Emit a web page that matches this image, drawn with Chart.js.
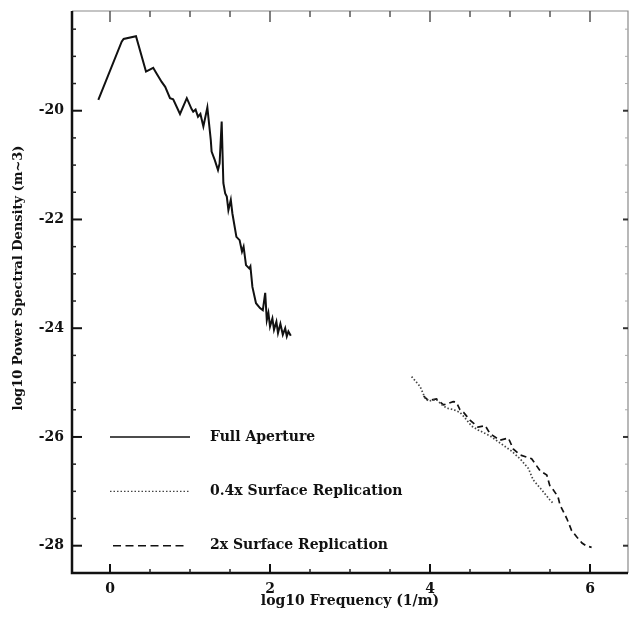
<!DOCTYPE html>
<html>
<head>
<meta charset="utf-8">
<script src="https://cdn.jsdelivr.net/npm/chart.js@4/dist/chart.umd.min.js"></script>
<style>
  html, body { margin: 0; padding: 0; background: #fff; }
  #wrap { width: 629px; height: 619px; position: relative; }
</style>
</head>
<body>
<div id="wrap"><canvas id="psd"></canvas></div>
<script>
// Full aperture measurement
const fullX = [-0.146, 0.146, 0.17, 0.325, 0.45, 0.54, 0.58, 0.646, 0.69, 0.75, 0.79, 0.875, 0.96, 1.02, 1.04, 1.07, 1.10, 1.13, 1.167, 1.217, 1.26, 1.27, 1.31, 1.35, 1.37, 1.396, 1.417, 1.44, 1.46, 1.48, 1.51, 1.53, 1.58, 1.62, 1.65, 1.67, 1.70, 1.74, 1.755, 1.78, 1.825, 1.875, 1.91, 1.94, 1.96, 1.98, 2.0, 2.03, 2.05, 2.08, 2.10, 2.13, 2.16, 2.19, 2.21, 2.23, 2.26];
const fullY = [-19.80, -18.73, -18.68, -18.63, -19.28, -19.21, -19.31, -19.47, -19.56, -19.77, -19.79, -20.06, -19.77, -19.97, -20.02, -19.98, -20.11, -20.06, -20.29, -19.94, -20.54, -20.75, -20.91, -21.09, -20.97, -20.20, -21.33, -21.52, -21.58, -21.83, -21.64, -21.89, -22.32, -22.38, -22.59, -22.50, -22.84, -22.90, -22.86, -23.24, -23.54, -23.63, -23.67, -23.35, -23.85, -23.72, -23.97, -23.82, -24.03, -23.88, -24.09, -23.92, -24.12, -24.00, -24.15, -24.06, -24.14];

// 0.4x surface replication
const rep04X = [3.77, 3.875, 3.94, 3.98, 4.08, 4.15, 4.21, 4.30, 4.375, 4.42, 4.52, 4.60, 4.75, 4.875, 5.02, 5.125, 5.23, 5.29, 5.40, 5.50, 5.54];
const rep04Y = [-24.89, -25.07, -25.29, -25.34, -25.31, -25.41, -25.47, -25.50, -25.55, -25.62, -25.80, -25.87, -25.98, -26.11, -26.26, -26.40, -26.58, -26.79, -26.98, -27.16, -27.22];

// 2x surface replication
const rep2X = [3.92, 3.98, 4.08, 4.17, 4.29, 4.33, 4.375, 4.42, 4.50, 4.60, 4.69, 4.75, 4.875, 4.98, 5.04, 5.125, 5.27, 5.375, 5.46, 5.50, 5.54, 5.60, 5.625, 5.71, 5.77, 5.83, 5.90, 5.95, 6.02];
const rep2Y = [-25.25, -25.33, -25.30, -25.41, -25.35, -25.36, -25.50, -25.55, -25.69, -25.82, -25.79, -25.94, -26.06, -26.02, -26.22, -26.33, -26.40, -26.62, -26.70, -26.91, -26.97, -27.10, -27.25, -27.50, -27.72, -27.83, -27.95, -28.00, -28.03];

const seriesNames = ['Full Aperture', '0.4x Surface Replication', '2x Surface Replication'];

const xMajorTicks = [0, 2, 4, 6];
const xMinorTicks = [0.5, 1, 1.5, 2.5, 3, 3.5, 4.5, 5, 5.5];
const yMajorTicks = [-28, -26, -24, -22, -20];
const yMinorTicks = [-27.5, -27, -26.5, -25.5, -25, -24.5, -23.5, -23, -22.5, -21.5, -21, -20.5, -19.5, -19, -18.5];

const xTitle = 'log10 Frequency (1/m)';
const yTitle = 'log10 Power Spectral Density (m~3)';

const toPts = (xs, ys) => xs.map((v, i) => ({ x: v, y: ys[i] }));

const serif = '"DejaVu Serif", "Liberation Serif", serif';
const dashes = [[], [1.5, 2], [6, 4]];
const inkColors = ['#111', '#444', '#111'];

// frame box with inward tick marks, like the original plot
const frameTicks = {
  id: 'frameTicks',
  afterDatasetsDraw(chart) {
    const { ctx, chartArea: a, scales: { x, y } } = chart;
    ctx.save();
    ctx.lineCap = 'butt';

    ctx.strokeStyle = '#8a8a8a';
    ctx.lineWidth = 1.2;
    ctx.beginPath();
    ctx.moveTo(a.left, a.top); ctx.lineTo(a.right, a.top); ctx.lineTo(a.right, a.bottom);
    ctx.stroke();

    ctx.strokeStyle = '#111';
    ctx.lineWidth = 2.5;
    ctx.beginPath();
    ctx.moveTo(a.left, a.top); ctx.lineTo(a.left, a.bottom); ctx.lineTo(a.right, a.bottom);
    ctx.stroke();

    const tick = (x0, y0, x1, y1, w, c) => {
      ctx.strokeStyle = c; ctx.lineWidth = w;
      ctx.beginPath(); ctx.moveTo(x0, y0); ctx.lineTo(x1, y1); ctx.stroke();
    };
    xMajorTicks.forEach(v => {
      const px = x.getPixelForValue(v);
      tick(px, a.bottom, px, a.bottom - 9, 2, '#111');
      tick(px, a.top, px, a.top + 11, 1.5, '#555');
    });
    xMinorTicks.forEach(v => {
      const px = x.getPixelForValue(v);
      tick(px, a.bottom, px, a.bottom - 4, 1.5, '#222');
      tick(px, a.top, px, a.top + 6, 1.5, '#555');
    });
    yMajorTicks.forEach(v => {
      const py = y.getPixelForValue(v);
      tick(a.left, py, a.left + 10, py, 2, '#111');
      tick(a.right, py, a.right - 5, py, 2, '#333');
    });
    yMinorTicks.forEach(v => {
      const py = y.getPixelForValue(v);
      tick(a.left, py, a.left + 4, py, 1.5, '#222');
      tick(a.right, py, a.right - 3, py, 1, '#aaa');
    });

    // rotated y axis title, sitting a little above centre as in the original
    ctx.save();
    ctx.translate(19, 278);
    ctx.rotate(-Math.PI / 2);
    ctx.font = 'bold 13px ' + serif;
    ctx.fillStyle = '#111';
    ctx.textAlign = 'center';
    ctx.textBaseline = 'middle';
    ctx.fillText(yTitle, 0, 0);
    ctx.restore();

    ctx.restore();
  }
};

// legend drawn inside the plot area, lower left
const innerLegend = {
  id: 'innerLegend',
  afterDraw(chart) {
    const { ctx, scales: { x, y } } = chart;
    const rowVals = [-26, -27, -28];
    ctx.save();
    ctx.font = 'bold 14px ' + serif;
    ctx.textBaseline = 'middle';
    ctx.fillStyle = '#111';
    seriesNames.forEach((name, i) => {
      const py = y.getPixelForValue(rowVals[i]);
      const x0 = x.getPixelForValue(0) + (i === 2 ? 3 : 0);
      const x1 = x.getPixelForValue(1) - (i === 2 ? 3 : 0);
      ctx.strokeStyle = inkColors[i];
      ctx.lineWidth = i === 1 ? 1.3 : 1.4;
      ctx.setLineDash(i === 2 ? [8, 4.5] : dashes[i]);
      ctx.beginPath(); ctx.moveTo(x0, py); ctx.lineTo(x1, py); ctx.stroke();
      ctx.setLineDash([]);
      ctx.fillText(name, x.getPixelForValue(1.25), py);
    });
    ctx.restore();
  }
};

const dataSets = [toPts(fullX, fullY), toPts(rep04X, rep04Y), toPts(rep2X, rep2Y)];

new Chart(document.getElementById('psd'), {
  type: 'scatter',
  data: {
    datasets: dataSets.map((pts, i) => ({
      label: seriesNames[i],
      data: pts,
      showLine: true,
      borderColor: inkColors[i],
      borderWidth: i === 0 ? 2 : 1.7,
      borderDash: dashes[i],
      pointRadius: 0,
      tension: 0,
      fill: false
    }))
  },
  options: {
    responsive: true,
    maintainAspectRatio: false,
    animation: false,
    layout: { padding: { top: 11, right: 1, left: 0, bottom: 0 } },
    plugins: {
      legend: { display: false },
      tooltip: { enabled: false }
    },
    scales: {
      x: {
        type: 'linear',
        min: -0.475,
        max: 6.475,
        grid: { display: false, drawTicks: false },
        border: { display: false },
        afterFit: s => { s.height = 46; s.paddingLeft = 0; s.paddingRight = 0; },
        afterBuildTicks: s => { s.ticks = xMajorTicks.map(v => ({ value: v })); },
        ticks: {
          padding: 8,
          color: '#111',
          font: { family: serif, size: 14, weight: 'bold' },
          callback: v => String(v)
        },
        title: {
          display: true,
          text: xTitle,
          color: '#111',
          font: { family: serif, size: 14, weight: 'bold' },
          padding: { top: 0, bottom: 9 }
        }
      },
      y: {
        type: 'linear',
        min: -28.502,
        max: -18.166,
        grid: { display: false, drawTicks: false },
        border: { display: false },
        afterFit: s => { s.width = 72; s.paddingTop = 0; s.paddingBottom = 0; },
        afterBuildTicks: s => { s.ticks = yMajorTicks.map(v => ({ value: v })); },
        ticks: {
          padding: 8,
          color: '#111',
          font: { family: serif, size: 14, weight: 'bold' },
          callback: v => String(v)
        }
      }
    }
  },
  plugins: [frameTicks, innerLegend]
});
</script>
</body>
</html>
